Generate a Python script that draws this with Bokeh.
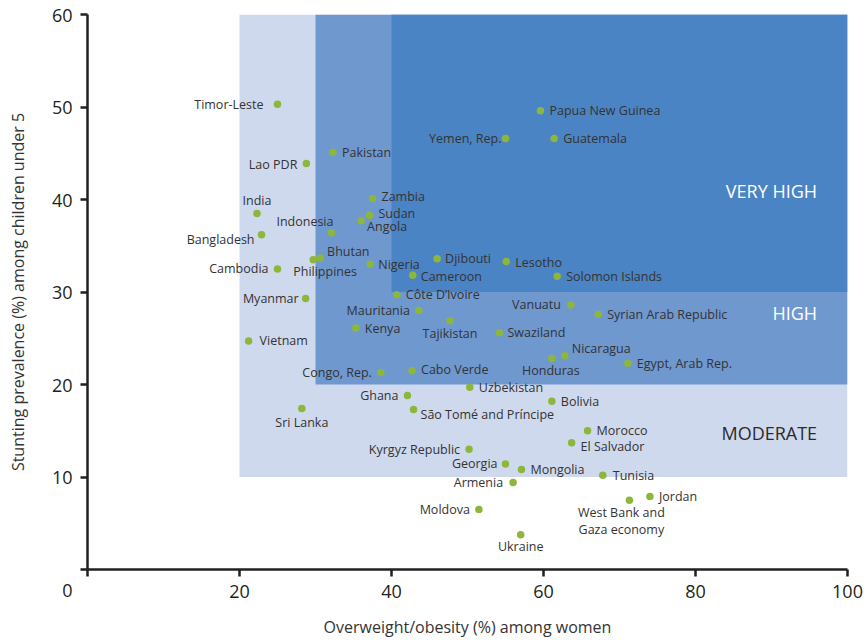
from bokeh.plotting import figure
from bokeh.models import ColumnDataSource, Label, FixedTicker, Range1d
from bokeh.core.properties import value
from bokeh.embed import file_html
from bokeh.resources import INLINE

# ---------------- data ----------------
countries = ["Timor-Leste", "Pakistan", "Lao PDR", "Zambia", "Sudan", "Angola", "India",
             "Bangladesh", "Indonesia", "Bhutan", "Philippines", "Cambodia", "Nigeria",
             "Djibouti", "Cameroon", "Lesotho", "Solomon Islands", "Papua New Guinea",
             "Yemen, Rep.", "Guatemala", "Myanmar", "Vietnam", "Côte D’Ivoire", "Mauritania",
             "Kenya", "Tajikistan", "Congo, Rep.", "Cabo Verde", "Ghana",
             "São Tomé and Príncipe", "Sri Lanka", "Uzbekistan", "Vanuatu",
             "Syrian Arab Republic", "Swaziland", "Nicaragua", "Honduras", "Egypt, Arab Rep.",
             "Bolivia", "Morocco", "El Salvador", "Kyrgyz Republic", "Georgia", "Mongolia",
             "Armenia", "Moldova", "Ukraine", "Tunisia", "West Bank and\nGaza economy", "Jordan"]
overweight = [25.0, 32.3, 28.8, 37.5, 37.1, 36.0, 22.3, 22.9, 32.1, 30.6, 29.7, 25.0, 37.2,
              46.0, 42.8, 55.1, 61.8, 59.6, 55.0, 61.4, 28.7, 21.2, 40.7, 43.6,
              35.3, 47.7, 38.6, 42.7, 42.1, 42.9, 28.2, 50.3, 63.6,
              67.2, 54.2, 62.8, 61.1, 71.1, 61.1, 65.8, 63.7, 50.2, 55.0, 57.1,
              56.0, 51.5, 57.0, 67.8, 71.3, 74.0]
stunting = [50.3, 45.1, 43.9, 40.1, 38.3, 37.7, 38.5, 36.2, 36.4, 33.7, 33.5, 32.5, 33.0,
            33.6, 31.8, 33.3, 31.7, 49.6, 46.6, 46.6, 29.3, 24.7, 29.7, 28.0,
            26.1, 26.9, 21.3, 21.5, 18.8, 17.3, 17.4, 19.7, 28.6,
            27.6, 25.6, 23.1, 22.8, 22.3, 18.2, 15.0, 13.7, 13.0, 11.4, 10.8,
            9.4, 6.5, 3.75, 10.2, 7.5, 7.9]

zones = ["MODERATE", "HIGH", "VERY HIGH"]
zone_left = [20, 30, 40]
zone_right = [100, 100, 100]
zone_bottom = [10, 20, 30]
zone_top = [60, 60, 60]

x_ticks = [0, 20, 40, 60, 80, 100]
y_ticks = [0, 10, 20, 30, 40, 50, 60]

# ---------------- styles / label placement ----------------
zone_colors = ["#cfd9ee", "#6f98cf", "#4b84c4"]
zone_text_colors = ["#2b2b2b", "#ffffff", "#ffffff"]
zone_label_dy = [44, 72, 101]   # px above zone bottom

# name -> (align, dx px, dy px (down positive))
place = {
    "Timor-Leste": ("right", -14, 0), "Pakistan": ("left", 9, 0), "Lao PDR": ("right", -9, 1),
    "Zambia": ("left", 9, -2), "Sudan": ("left", 9, -2), "Angola": ("left", 6, 6),
    "India": ("center", 0, -13), "Bangladesh": ("right", -7, 5), "Indonesia": ("right", 2, -11),
    "Bhutan": ("left", 7, -6), "Philippines": ("left", -20, 12), "Cambodia": ("right", -9, 0),
    "Nigeria": ("left", 8, 0), "Djibouti": ("left", 8, 0), "Cameroon": ("left", 8, 1),
    "Lesotho": ("left", 9, 1), "Solomon Islands": ("left", 9, 0), "Papua New Guinea": ("left", 9, 0),
    "Yemen, Rep.": ("right", -4, 0), "Guatemala": ("left", 9, 0), "Myanmar": ("right", -7, 0),
    "Vietnam": ("left", 11, -1), "Côte D’Ivoire": ("left", 9, 0), "Mauritania": ("right", -9, 0),
    "Kenya": ("left", 9, 0), "Tajikistan": ("center", 0, 13), "Congo, Rep.": ("right", -9, 0),
    "Cabo Verde": ("left", 9, -1), "Ghana": ("right", -9, 0), "São Tomé and Príncipe": ("left", 7, 5),
    "Sri Lanka": ("center", 0, 14), "Uzbekistan": ("left", 9, 0), "Vanuatu": ("right", -10, 0),
    "Syrian Arab Republic": ("left", 9, 0), "Swaziland": ("left", 8, 0), "Nicaragua": ("left", 7, -7),
    "Honduras": ("center", -1, 12), "Egypt, Arab Rep.": ("left", 9, 0), "Bolivia": ("left", 9, 0),
    "Morocco": ("left", 9, 0), "El Salvador": ("left", 9, 4), "Kyrgyz Republic": ("right", -9, 0),
    "Georgia": ("right", -8, -1), "Mongolia": ("left", 9, 0), "Armenia": ("right", -10, 0),
    "Moldova": ("right", -9, 0), "Ukraine": ("center", 0, 12), "Tunisia": ("left", 10, 0),
    "West Bank and\nGaza economy": ("center", -8, 21), "Jordan": ("left", 9, 0),
}

FONT = "Open Sans"
AXIS_COLOR = "#231f20"

p = figure(width=864, height=642, output_backend="svg", toolbar_location=None,
           x_range=Range1d(0, 100), y_range=Range1d(0, 60),
           min_border_left=87, min_border_right=17, min_border_top=14, min_border_bottom=73)
p.outline_line_color = None
p.grid.visible = False
p.background_fill_color = "white"
p.border_fill_color = "white"

# zones
zsrc = ColumnDataSource(dict(left=zone_left, right=zone_right, bottom=zone_bottom,
                             top=zone_top, color=zone_colors))
p.quad(left="left", right="right", bottom="bottom", top="top", fill_color="color",
       line_color=None, source=zsrc)

for i, z in enumerate(zones):
    p.add_layout(Label(x=zone_right[i] - 4, y=zone_bottom[i], y_offset=zone_label_dy[i], text=z,
                       text_align="right", text_baseline="middle", text_font=FONT,
                       text_font_size="18px", text_color=zone_text_colors[i]))

# points
p.scatter(overweight, stunting, size=7.5, fill_color="#8db63c", line_color=None)

# labels
for align in ["left", "right", "center"]:
    xs, ys, ts, dxs, dys = [], [], [], [], []
    for c, xv, yv in zip(countries, overweight, stunting):
        a, dx, dy = place[c]
        if a == align:
            xs.append(xv); ys.append(yv); ts.append(c); dxs.append(dx); dys.append(dy)
    src = ColumnDataSource(dict(x=xs, y=ys, text=ts, dx=dxs, dy=dys))
    p.text(x="x", y="y", text="text", x_offset="dx", y_offset="dy", source=src,
           text_align=align, text_baseline="middle", text_font=value(FONT),
           text_font_size="12.5px", text_color="#333333", text_line_height=0.96)

# axes
for ax in (p.xaxis[0], p.yaxis[0]):
    ax.axis_line_width = 2.5
    ax.axis_line_color = AXIS_COLOR
    ax.major_tick_line_width = 2.5
    ax.major_tick_line_color = AXIS_COLOR
    ax.major_tick_out = 7
    ax.major_tick_in = 0
    ax.minor_tick_line_color = None
    ax.major_label_text_font = FONT
    ax.major_label_text_font_size = "18px"
    ax.major_label_text_color = AXIS_COLOR
    ax.axis_label_text_font = FONT
    ax.axis_label_text_font_size = "16px"
    ax.axis_label_text_font_style = "normal"
    ax.axis_label_text_color = "#333333"

p.xaxis.ticker = FixedTicker(ticks=x_ticks)
p.yaxis.ticker = FixedTicker(ticks=y_ticks)
p.xaxis.major_label_overrides = {0: ""}
p.yaxis.major_label_overrides = {0: "\n\n0"}
p.yaxis.major_label_text_line_height = 0.84
p.xaxis.major_label_standoff = 8
p.yaxis.major_label_standoff = 8
p.xaxis.axis_label = "Overweight/obesity (%) among women"
p.yaxis.axis_label = "Stunting prevalence (%) among children under 5"
p.xaxis.axis_label_standoff = 15
p.yaxis.axis_label_standoff = 20

open("out.html", "w").write(file_html(p, INLINE))
